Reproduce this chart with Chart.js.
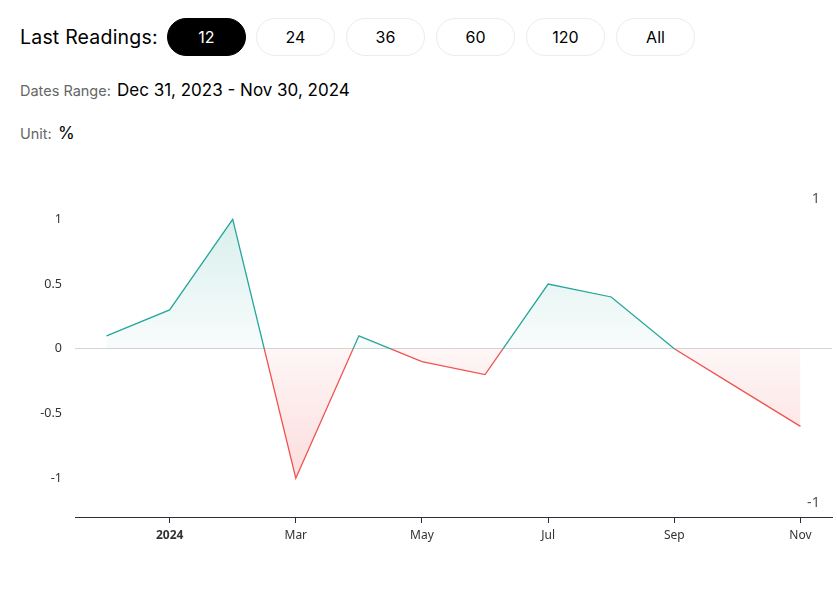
<!DOCTYPE html>
<html>
<head>
<meta charset="utf-8">
<script src="https://cdn.jsdelivr.net/npm/chart.js@4.4.1/dist/chart.umd.min.js"></script>
<style>
  html, body { margin: 0; padding: 0; background: #fff; }
  body { width: 837px; height: 603px; position: relative; overflow: hidden; font-family: Inter, "Open Sans", sans-serif; color: #000; }
  .lbl { position: absolute; left: 20px; top: 25px; font-size: 19.5px; letter-spacing: 0.2px; }
  .btn { position: absolute; top: 18px; height: 38px; width: 79px; box-sizing: border-box; border: 1px solid #ececec; border-radius: 19px; font-size: 16px; line-height: 36px; text-align: center; background: #fff; }
  .btn.on { background: #000; color: #fff; border-color: #000; }
  .row { position: absolute; left: 20px; font-size: 14.5px; color: #666; }
  .row b { font-weight: normal; color: #000; font-size: 17px; margin-left: 2px; }
  #wrap { position: absolute; left: 0; top: 160px; width: 837px; height: 400px; }
</style>
</head>
<body>
<div class="lbl">Last Readings:</div>
<div class="btn on" style="left:167px">12</div>
<div class="btn" style="left:256px">24</div>
<div class="btn" style="left:346px">36</div>
<div class="btn" style="left:436px">60</div>
<div class="btn" style="left:526px">120</div>
<div class="btn" style="left:616px">All</div>
<div class="row" style="top:80px">Dates Range: <b>Dec 31, 2023 - Nov 30, 2024</b></div>
<div class="row" style="top:123px">Unit: <b>%</b></div>
<div id="wrap"><canvas id="chart"></canvas></div>
<script>
var months = ['Dec 2023', 'Jan 2024', 'Feb 2024', 'Mar 2024', 'Apr 2024', 'May 2024', 'Jun 2024', 'Jul 2024', 'Aug 2024', 'Sep 2024', 'Oct 2024', 'Nov 2024'];
var tickLabels = ['', '2024', '', 'Mar', '', 'May', '', 'Jul', '', 'Sep', '', 'Nov'];
var values = [0.1, 0.3, 1.0, -1.0, 0.1, -0.1, -0.2, 0.5, 0.4, 0.0, -0.3, -0.6];
var yTicks = [-1, -0.5, 0, 0.5, 1];
var rightTicks = [-1, 1];

var UP = '#26a69a', DOWN = '#ef5350';

function zeroStop(chart) {
    var a = chart.chartArea;
    var z = chart.scales.y.getPixelForValue(0);
    return Math.min(1, Math.max(0, (z - a.top) / (a.bottom - a.top)));
}

function lineColor(ctx) {
    var chart = ctx.chart;
    if (!chart.chartArea) return UP;
    var a = chart.chartArea, s = zeroStop(chart);
    var g = chart.ctx.createLinearGradient(0, a.top, 0, a.bottom);
    g.addColorStop(0, UP);
    g.addColorStop(s, UP);
    g.addColorStop(s, DOWN);
    g.addColorStop(1, DOWN);
    return g;
}

function fillColor(ctx) {
    var chart = ctx.chart;
    if (!chart.chartArea) return 'rgba(38,166,154,0.1)';
    var a = chart.chartArea, s = zeroStop(chart);
    var g = chart.ctx.createLinearGradient(0, a.top, 0, a.bottom);
    g.addColorStop(0, 'rgba(38,166,154,0.22)');
    g.addColorStop(s, 'rgba(38,166,154,0.03)');
    g.addColorStop(s, 'rgba(239,83,80,0.05)');
    g.addColorStop(1, 'rgba(239,83,80,0.24)');
    return g;
}

var chart = new Chart(document.getElementById('chart'), {
    type: 'line',
    data: {
        labels: months,
        datasets: [{
            data: values,
            borderColor: lineColor,
            backgroundColor: fillColor,
            borderWidth: 1.3,
            pointRadius: 0,
            tension: 0,
            fill: { target: { value: 0 } }
        }]
    },
    options: {
        responsive: true,
        maintainAspectRatio: false,
        animation: false,
        layout: { padding: { top: 15, left: 0, right: 0, bottom: 0 } },
        plugins: { legend: { display: false }, tooltip: { enabled: false } },
        scales: {
            x: {
                type: 'category',
                offset: true,
                afterFit: function (s) { s.height = 43; },
                border: { display: true, color: '#2a2e39', width: 1 },
                grid: {
                    offset: false,
                    drawOnChartArea: false,
                    drawTicks: true,
                    tickLength: 6,
                    tickColor: function (ctx) { return tickLabels[ctx.index] ? '#2a2e39' : 'rgba(0,0,0,0)'; }
                },
                ticks: {
                    autoSkip: false,
                    maxRotation: 0,
                    padding: 5,
                    color: '#333',
                    callback: function (v, i) { return tickLabels[i]; },
                    font: function (ctx) {
                        var t = tickLabels[ctx.index] || '';
                        return { family: '"Noto Sans", sans-serif', size: 12, weight: /^\d/.test(t) ? 'bold' : 'normal' };
                    }
                }
            },
            y: {
                position: 'left',
                min: -1.3,
                max: 1.3,
                afterFit: function (s) { s.width = 75; },
                afterBuildTicks: function (s) { s.ticks = yTicks.map(function (v) { return { value: v }; }); },
                border: { display: false },
                grid: {
                    drawTicks: false,
                    color: function (ctx) { return ctx.tick && ctx.tick.value === 0 ? '#d4d4d4' : 'rgba(0,0,0,0)'; }
                },
                ticks: {
                    padding: 13,
                    color: '#333',
                    callback: function (v) { return String(v); },
                    font: { family: '"Noto Sans", sans-serif', size: 12.5 }
                }
            },
            y2: {
                position: 'right',
                min: -1.09,
                max: 1.12,
                afterFit: function (s) { s.width = 5; },
                afterBuildTicks: function (s) { s.ticks = rightTicks.map(function (v) { return { value: v }; }); },
                border: { display: false },
                grid: { display: false, drawTicks: false },
                ticks: {
                    mirror: true,
                    padding: -12,
                    color: '#555',
                    callback: function (v) { return String(v); },
                    font: { family: '"Noto Sans", sans-serif', size: 14.5 }
                }
            }
        }
    }
});
</script>
</body>
</html>
